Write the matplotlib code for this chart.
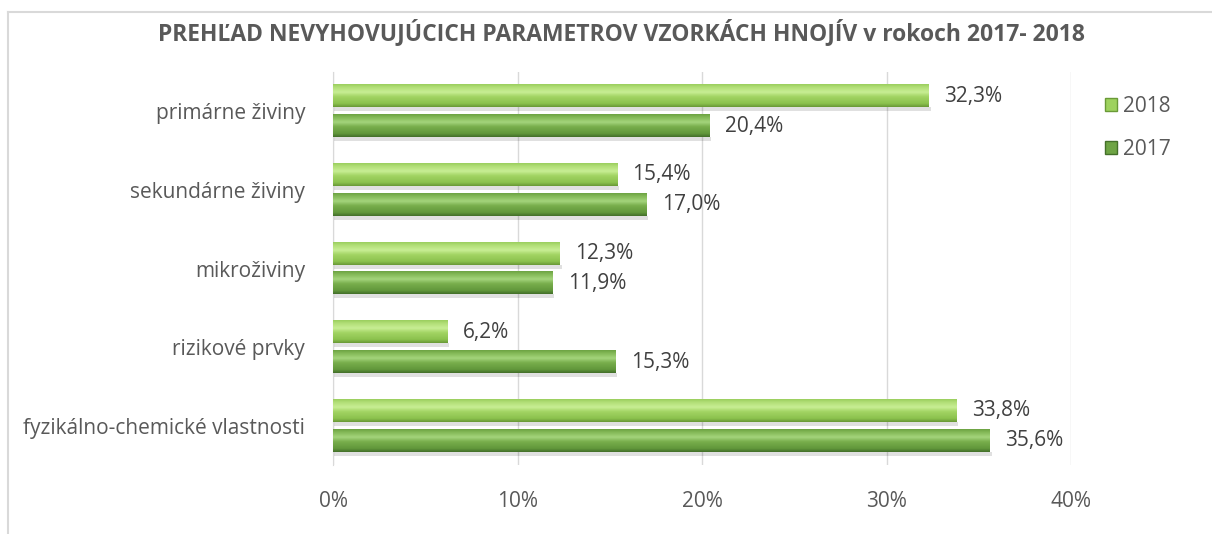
import numpy as np
import matplotlib.pyplot as plt
from matplotlib.patches import Patch
from matplotlib.lines import Line2D

plt.rcParams['font.family'] = ['Open Sans', 'DejaVu Sans']

categories = ['fyzikálno-chemické vlastnosti', 'rizikové prvky', 'mikroživiny',
              'sekundárne živiny', 'primárne živiny']
v2018 = [33.8, 6.2, 12.3, 15.4, 32.3]
v2017 = [35.6, 15.3, 11.9, 17.0, 20.4]
xticks = [0, 10, 20, 30, 40]

txt = '#595959'
fs = 15

def grad(stops):
    # vertical colour profile, top -> bottom
    pos = np.linspace(0, 1, 40)
    sp = [s[0] for s in stops]
    cols = np.array([plt.matplotlib.colors.to_rgb(s[1]) for s in stops])
    arr = np.stack([np.interp(pos, sp, cols[:, k]) for k in range(3)], axis=1)
    return arr[:, None, :]

g18 = grad([(0, '#9ccf5f'), (0.15, '#b4e07a'), (0.35, '#c8ee94'), (0.55, '#a2d463'),
            (0.85, '#8cc24e'), (1, '#6a9a37')])
g17 = grad([(0, '#6ea444'), (0.15, '#86bb5a'), (0.35, '#a4d47c'), (0.55, '#78ae4c'),
            (0.85, '#62983b'), (1, '#44702a')])

fig = plt.figure(figsize=(12.12, 5.34), dpi=100)
ax = fig.add_axes([333/1212, 69/534, 738/1212, 393/534])

y = np.arange(len(categories))
off = 0.19
h = 0.28

def draw(vals, ys, g):
    for v, yy in zip(vals, ys):
        # shadow
        ax.fill_between([0.05, v + 0.1], yy - h/2 - 0.05, yy - h/2, color='#000000',
                        alpha=0.12, linewidth=0, zorder=2)
        ax.imshow(g, extent=(0, v, yy - h/2, yy + h/2), aspect='auto',
                  interpolation='bilinear', zorder=3)
        ax.annotate('{:.1f}%'.format(v).replace('.', ','), (v, yy), xytext=(11, 0),
                    textcoords='offset points', va='center', ha='left',
                    fontsize=fs, color='#404040', zorder=4)

draw(v2018, y + off, g18)
draw(v2017, y - off, g17)

ax.set_xlim(0, 40)
ax.set_ylim(-0.5, 4.5)
ax.set_xticks(xticks)
ax.set_xticklabels(['{}%'.format(t) for t in xticks], color=txt, fontsize=fs)
ax.set_yticks(y)
ax.set_yticklabels(categories, color=txt, fontsize=fs)
ax.tick_params(axis='both', length=0)
ax.tick_params(axis='x', pad=19)
ax.tick_params(axis='y', pad=20)
ax.grid(axis='x', color='#d9d9d9', linewidth=1, zorder=0)
ax.set_axisbelow(True)
for s in ['top', 'right', 'bottom']:
    ax.spines[s].set_visible(False)
ax.spines['left'].set_color('#d9d9d9')

fig.text(0.513, 1 - 33/534, 'PREHĽAD NEVYHOVUJÚCICH PARAMETROV VZORKÁCH HNOJÍV v rokoch 2017- 2018',
         ha='center', va='center', fontsize=16.5, fontweight='bold', color=txt)

handles = [Patch(facecolor='#9ed25e', edgecolor='#6a9a37'),
           Patch(facecolor='#6ea444', edgecolor='#44702a')]
fig.legend(handles, ['2018', '2017'], loc='upper left', bbox_to_anchor=(1086/1212, 1 - 77/534),
           frameon=False, fontsize=fs, labelcolor=txt, handlelength=0.6, handleheight=0.6,
           handletextpad=0.3, labelspacing=1.05)

fig.add_artist(Line2D([8/1212, 1], [1 - 12/534] * 2, color='#d9d9d9', lw=1.5))
fig.add_artist(Line2D([8/1212] * 2, [0, 1 - 12/534], color='#d9d9d9', lw=1.5))

fig.savefig('out.png', dpi=100)
